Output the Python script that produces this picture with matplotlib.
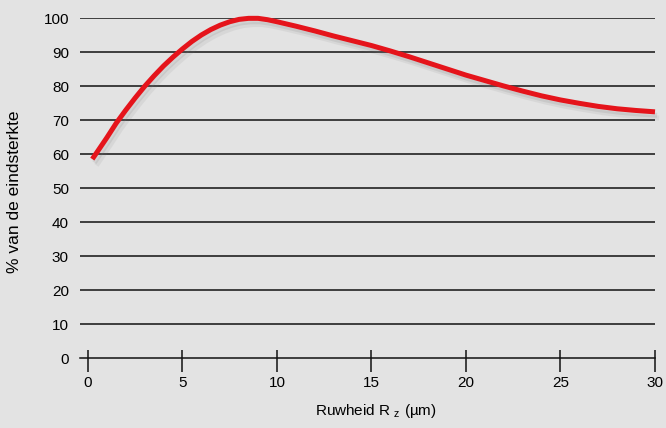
import numpy as np
import matplotlib.pyplot as plt
import matplotlib.patheffects as pe
from matplotlib.ticker import FixedLocator

# curve
ruwheid = [0.23, 0.5, 1, 1.5, 2, 2.5, 3, 3.5, 4, 4.5, 5, 5.5, 6, 6.5, 7, 7.5, 8, 8.5,
           9, 9.5, 10, 11, 12, 13, 14, 15, 16, 17, 18, 19, 20, 21, 22, 23, 24, 25,
           26, 27, 28, 29, 30]
sterkte = [58.5, 60.7, 64.8, 69.1, 72.9, 76.5, 79.9, 83.0, 85.9, 88.5, 90.9, 93.1,
           95.0, 96.6, 97.9, 98.9, 99.6, 99.9, 99.9, 99.5, 98.9, 97.6, 96.2, 94.7,
           93.3, 91.9, 90.3, 88.6, 86.8, 85.0, 83.2, 81.6, 80.0, 78.5, 77.1, 75.9,
           74.9, 74.0, 73.3, 72.8, 72.4]
x_ticks = [0, 5, 10, 15, 20, 25, 30]
y_ticks = [0, 10, 20, 30, 40, 50, 60, 70, 80, 90, 100]

plt.rcParams['font.family'] = ['Liberation Sans', 'DejaVu Sans']
plt.rcParams['mathtext.fontset'] = 'custom'
plt.rcParams['mathtext.rm'] = 'Liberation Sans'

bg = '#e3e3e3'
ink = '#111111'
fig = plt.figure(figsize=(6.66, 4.28), dpi=100, facecolor=bg)
ax = fig.add_axes([80 / 666, 1 - 358 / 428, 575 / 666, 340 / 428])
ax.set_facecolor(bg)

for y in y_ticks[1:]:
    ax.axhline(y, color=ink, lw=1.1, zorder=1)

ax.plot(ruwheid, sterkte, color='#e5141b', lw=3.6, solid_capstyle='butt',
        solid_joinstyle='round', clip_on=False, zorder=3,
        path_effects=[pe.SimpleLineShadow(offset=(3, -4.5), shadow_color='#777777', alpha=0.10),
                      pe.SimpleLineShadow(offset=(1.5, -2.5), shadow_color='#777777', alpha=0.15),
                      pe.Normal()])

ax.set_xlim(-0.42, 30)
ax.set_ylim(0, 100)
ax.set_xticks(x_ticks)
ax.set_yticks(y_ticks)
# ticks cross the axis: short part up, longer part down
ax.xaxis.remove_overlapping_locs = False
ax.xaxis.set_minor_locator(FixedLocator(x_ticks))

for s in ['top', 'right', 'left']:
    ax.spines[s].set_visible(False)
ax.spines['bottom'].set_linewidth(1.1)
ax.spines['bottom'].set_color(ink)

ax.tick_params(axis='x', which='major', direction='out', length=10, width=1.1, color=ink,
               labelsize=11, pad=3)
ax.tick_params(axis='x', which='minor', direction='in', length=6, width=1.1, color=ink)
ax.tick_params(axis='y', length=0, labelsize=11, pad=8)

ax.set_xlabel('Ruwheid R $_\\mathregular{z}$ (µm)', fontsize=11)
ax.xaxis.set_label_coords(0.515, -0.13)
ax.xaxis.label.set_va('top')
ax.set_ylabel('% van de eindsterkte', fontsize=12.5)
ax.yaxis.set_label_coords(-0.100, 0.49)

fig.savefig('out.png', dpi=100, facecolor=bg)
